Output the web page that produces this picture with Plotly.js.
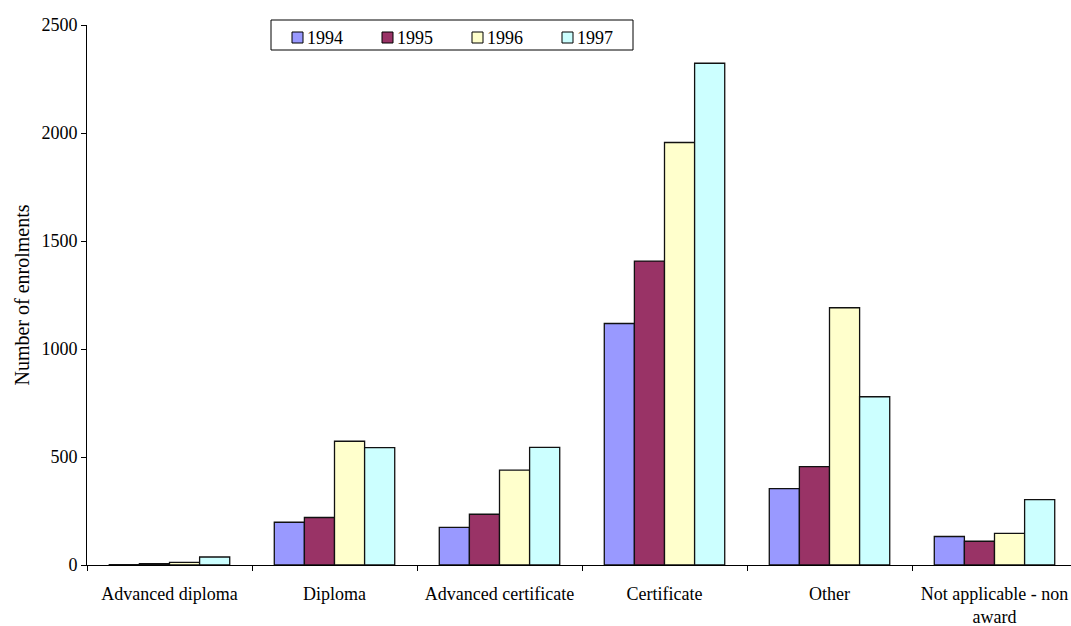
<!DOCTYPE html>
<html>
<head>
<meta charset="utf-8">
<script src="https://cdn.plot.ly/plotly-3.0.1.min.js"></script>
<style>
  html, body { margin: 0; padding: 0; overflow: hidden; background: #fff; }
  #chart { width: 1090px; height: 626px; }
</style>
</head>
<body>
<div id="chart"></div>
<script>
// Enrolments by qualification level, 1994-1997
const categories = [
  "Advanced diploma",
  "Diploma",
  "Advanced certificate",
  "Certificate",
  "Other",
  "Not applicable - non<br>award"
];
const years = ["1994", "1995", "1996", "1997"];
const enrol1994 = [2, 198, 174, 1118, 354, 132];
const enrol1995 = [6, 220, 235, 1407, 455, 110];
const enrol1996 = [12, 573, 439, 1956, 1191, 146];
const enrol1997 = [37, 543, 545, 2323, 779, 303];
const seriesValues = [enrol1994, enrol1995, enrol1996, enrol1997];
const fillColours = ["#9999FF", "#993366", "#FFFFCC", "#CCFFFF"];

const serif = "'Liberation Serif', 'Times New Roman', serif";

// Figure geometry (pixels)
const W = 1090, H = 626;
const M = { l: 87, r: 13, t: 25, b: 61 };
const plotW = W - M.l - M.r, plotH = H - M.t - M.b;
const px2x = px => (px - M.l) / plotW;
const px2y = py => (H - M.b - py) / plotH;

const traces = years.map((yr, i) => ({
  type: "bar",
  name: yr,
  x: categories,
  y: seriesValues[i],
  marker: { color: fillColours[i], line: { color: "#111", width: 1.3 } },
  showlegend: false
}));

// Boxed legend drawn as shapes + text, laid out in one row
const legendBox = { x0: 271, x1: 633, y0: 20, y1: 50 };
const legendStep = 90, swatchX = 292, swatchSize = 11, swatchTop = 32;
const shapes = [{
  type: "rect", xref: "paper", yref: "paper",
  x0: px2x(legendBox.x0), x1: px2x(legendBox.x1),
  y0: px2y(legendBox.y1), y1: px2y(legendBox.y0),
  line: { color: "#000", width: 1 }, fillcolor: "#fff", layer: "above"
}];
const annotations = [];
years.forEach((yr, i) => {
  const sx = swatchX + i * legendStep;
  shapes.push({
    type: "rect", xref: "paper", yref: "paper",
    x0: px2x(sx), x1: px2x(sx + swatchSize),
    y0: px2y(swatchTop + swatchSize), y1: px2y(swatchTop),
    line: { color: "#000", width: 1 }, fillcolor: fillColours[i], layer: "above"
  });
  annotations.push({
    xref: "paper", yref: "paper",
    x: px2x(sx + swatchSize + 2), y: px2y(swatchTop + swatchSize / 2),
    xanchor: "left", yanchor: "middle",
    text: yr, showarrow: false,
    font: { family: serif, size: 18, color: "#000" }
  });
});

const layout = {
  width: W,
  height: H,
  margin: M,
  paper_bgcolor: "#fff",
  plot_bgcolor: "#fff",
  font: { family: serif, size: 18, color: "#000" },
  barmode: "group",
  bargap: 0.27,
  bargroupgap: 0,
  showlegend: false,
  shapes: shapes,
  annotations: annotations,
  xaxis: {
    type: "category",
    showline: true, linecolor: "#000", linewidth: 1,
    ticks: "outside", ticklen: 5, tickcolor: "#000",
    tickson: "boundaries",
    ticklabelstandoff: 12,
    showgrid: false, zeroline: false,
    tickfont: { family: serif, size: 18, color: "#000" },
    automargin: false
  },
  yaxis: {
    range: [0, 2500],
    dtick: 500,
    tickformat: "d",
    showline: true, linecolor: "#000", linewidth: 1,
    ticks: "outside", ticklen: 5, tickcolor: "#000",
    showgrid: false, zeroline: false,
    tickfont: { family: serif, size: 18, color: "#000" },
    title: { text: "Number of enrolments", font: { family: serif, size: 20, color: "#000" }, standoff: 6 },
    automargin: false
  }
};

Plotly.newPlot("chart", traces, layout, { displayModeBar: false, staticPlot: true });
</script>
</body>
</html>
